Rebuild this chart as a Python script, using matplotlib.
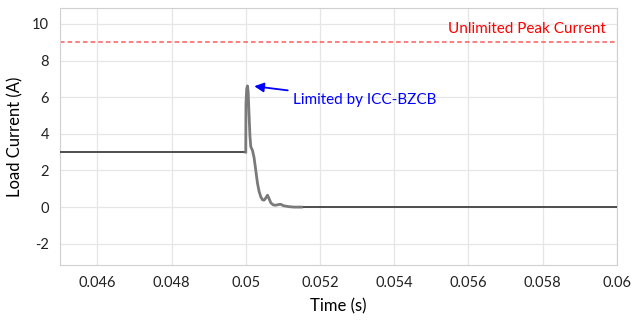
import matplotlib
matplotlib.use("Agg")
import matplotlib.pyplot as plt

plt.rcParams['font.family'] = ['Lato', 'DejaVu Sans']
plt.rcParams['axes.unicode_minus'] = False

# load current waveform
t_pre = [0.045, 0.05]
i_pre = [3.0, 3.0]

t_spike = [0.05, 0.050005, 0.050025, 0.050046, 0.050065, 0.05009, 0.050112, 0.050135,
           0.05018, 0.050224, 0.05027, 0.050316, 0.05036, 0.050405, 0.05045, 0.050495,
           0.05054, 0.050586, 0.05063, 0.050676, 0.05074, 0.050811, 0.05088, 0.050946,
           0.05101, 0.05108, 0.05118, 0.0513, 0.0515]
i_spike = [3.0, 5.6, 6.45, 6.62, 6.3, 5.0, 3.9, 3.3,
           3.1, 2.7, 2.0, 1.3, 0.85, 0.56, 0.4, 0.38,
           0.5, 0.65, 0.45, 0.23, 0.12, 0.1, 0.14, 0.15,
           0.08, 0.05, 0.02, 0.0, 0.0]

t_post = [0.0515, 0.06]
i_post = [0.0, 0.0]

peak_limit = 9.0
x_ticks = [0.046, 0.048, 0.05, 0.052, 0.054, 0.056, 0.058, 0.06]
x_labels = ["0.046", "0.048", "0.05", "0.052", "0.054", "0.056", "0.058", "0.06"]
y_ticks = [-2, 0, 2, 4, 6, 8, 10]

fig = plt.figure(figsize=(6.4, 3.21), dpi=100)
ax = fig.add_axes([0.094, 0.174, 0.87, 0.801])

ax.axhline(peak_limit, color='#ff5a5a', linestyle=(0, (3, 2)), linewidth=1.1, zorder=2)
ax.plot(t_pre, i_pre, color='#404040', linewidth=1.3, zorder=3)
ax.plot(t_post, i_post, color='#404040', linewidth=1.3, zorder=3)
ax.plot(t_spike, i_spike, color='#7a7a7a', linewidth=2.0, zorder=4)

ax.text(0.0597, 9.35, "Unlimited Peak Current", color='red', fontsize=11,
        ha='right', va='bottom')
ax.annotate("Limited by ICC-BZCB", xy=(0.05023, 6.6), xytext=(0.05128, 5.85),
            color='blue', fontsize=11, va='center', ha='left',
            arrowprops=dict(arrowstyle='-|>', color='blue', lw=1.3,
                            mutation_scale=14, shrinkA=2, shrinkB=0))

ax.set_xlim(0.045, 0.06)
ax.set_ylim(-3.17, 10.87)
ax.set_xticks(x_ticks)
ax.set_xticklabels(x_labels)
ax.set_yticks(y_ticks)
ax.tick_params(axis='both', length=0, labelsize=10.5, colors='#222222', pad=8)
ax.set_xlabel("Time (s)", fontsize=12, labelpad=6)
ax.set_ylabel("Load Current (A)", fontsize=12, labelpad=6)
ax.grid(True, color='#e6e6e6', linewidth=0.9)
ax.set_axisbelow(True)
for spine in ax.spines.values():
    spine.set_edgecolor('#d0d0d0')

fig.savefig("out.png", dpi=100, facecolor='white')
